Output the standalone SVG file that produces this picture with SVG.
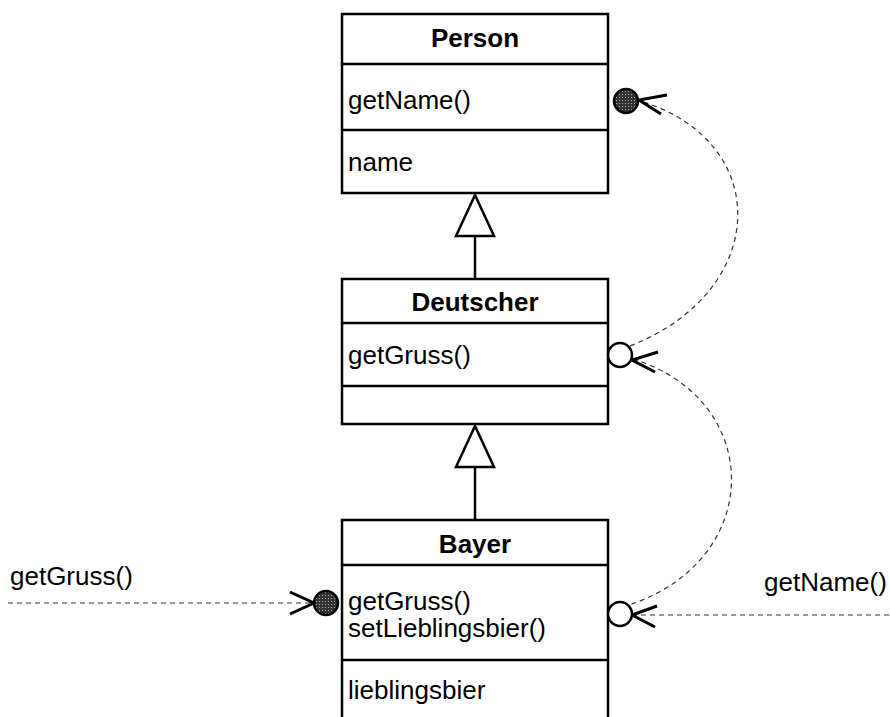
<svg xmlns="http://www.w3.org/2000/svg" width="890" height="717" viewBox="0 0 890 717">
<defs>
<pattern id="stip" width="3" height="3" patternUnits="userSpaceOnUse">
<rect width="3" height="3" fill="#333"/>
<rect x="1" y="1" width="1" height="1" fill="#aaa"/>
</pattern>
</defs>
<style>
.box{fill:#fff;stroke:#000;stroke-width:2.5}
.div{stroke:#000;stroke-width:2.5;fill:none}
.t{font-family:"Liberation Sans",Arial,sans-serif;font-size:26px;fill:#000}
.h{font-family:"Liberation Sans",Arial,sans-serif;font-size:26px;font-weight:bold;fill:#000;text-anchor:middle}
.gen{fill:#fff;stroke:#000;stroke-width:2.5}
.dash{fill:none;stroke:#333;stroke-width:1.2;stroke-dasharray:5 4}
.arr{fill:none;stroke:#000;stroke-width:3}
.full{fill:url(#stip);stroke:#000;stroke-width:2.5}
.open{fill:#fff;stroke:#000;stroke-width:2.5}
</style>
<g id="connectors">
<line class="gen" x1="475" y1="236" x2="475" y2="280"/>
<polygon class="gen" points="475,195 456,236 494,236"/>
<line class="gen" x1="475" y1="467" x2="475" y2="521"/>
<polygon class="gen" points="475,426 456,467 494,467"/>
<path class="dash" d="M 630 346 C 772 290, 772 140, 640 101"/>
<path class="dash" d="M 633 359 C 765 400, 765 560, 629 605"/>
<line class="dash" x1="8" y1="603" x2="312" y2="603"/>
<line class="dash" x1="632" y1="615" x2="890" y2="615"/>
<polyline class="arr" points="667,95 639,100 661,114"/>
<polyline class="arr" points="658,352 632,360 655,372"/>
<polyline class="arr" points="657,606 632,615 655,627"/>
<polyline class="arr" points="290,592 314,603 290,614"/>
</g>
<g id="Person">
<rect class="box" x="342" y="14" width="266" height="179"/>
<line class="div" x1="342" y1="64" x2="608" y2="64"/>
<line class="div" x1="342" y1="130" x2="608" y2="130"/>
<text class="h" x="475" y="47">Person</text>
<text class="t" x="348" y="109">getName()</text>
<text class="t" x="348" y="171">name</text>
<circle class="full" cx="626" cy="101" r="12"/>
</g>
<g id="Deutscher">
<rect class="box" x="342" y="279" width="266" height="145"/>
<line class="div" x1="342" y1="323" x2="608" y2="323"/>
<line class="div" x1="342" y1="386" x2="608" y2="386"/>
<text class="h" x="475" y="311">Deutscher</text>
<text class="t" x="348" y="364">getGruss()</text>
<circle class="open" cx="620" cy="355" r="12"/>
</g>
<g id="Bayer">
<rect class="box" x="342" y="520" width="266" height="220"/>
<line class="div" x1="342" y1="565" x2="608" y2="565"/>
<line class="div" x1="342" y1="660" x2="608" y2="660"/>
<text class="h" x="475" y="553">Bayer</text>
<text class="t" x="348" y="610">getGruss()</text>
<text class="t" x="348" y="637">setLieblingsbier()</text>
<text class="t" x="348" y="699">lieblingsbier</text>
<circle class="full" cx="326" cy="603" r="12"/>
<circle class="open" cx="620" cy="614" r="12"/>
</g>
<g id="labels">
<text class="t" x="10" y="585">getGruss()</text>
<text class="t" x="764" y="591">getName()</text>
</g>
</svg>
